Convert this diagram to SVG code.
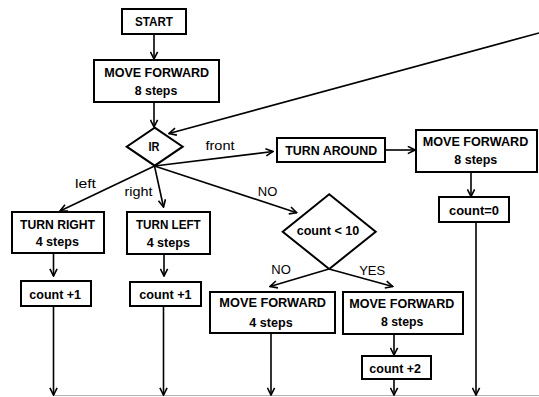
<svg xmlns="http://www.w3.org/2000/svg" width="539" height="397" viewBox="0 0 539 397">
<style>
.box{fill:#fff;stroke:#000;stroke-width:2}
.t{font-family:"Liberation Sans",Arial,sans-serif;font-weight:bold;font-size:12.5px;text-anchor:middle;fill:#000}
.l{font-family:"Liberation Sans",Arial,sans-serif;font-size:13px;text-anchor:middle;fill:#000}
.c{fill:none;stroke:#000;stroke-width:1.6}
</style>
<defs>
<marker id="ah" markerUnits="userSpaceOnUse" viewBox="0 0 10 10" refX="9" refY="5" markerWidth="9" markerHeight="9" orient="auto">
<path d="M1,1 L9,5 L1,9" fill="none" stroke="#000" stroke-width="1.8"/>
</marker>
</defs>
<rect width="539" height="397" fill="#fff"/>
<line x1="53" y1="395.5" x2="539" y2="395.5" stroke="#b0b0b0" stroke-width="1"/>
<g id="connectors">
<line class="c" x1="154" y1="34" x2="154" y2="59" marker-end="url(#ah)"/>
<line class="c" x1="154" y1="102" x2="154" y2="127" marker-end="url(#ah)"/>
<line class="c" x1="539" y1="33" x2="169" y2="133.5" marker-end="url(#ah)"/>
<line class="c" x1="154.5" y1="166" x2="273" y2="151.5" marker-end="url(#ah)"/>
<line class="c" x1="154.5" y1="166" x2="60" y2="211" marker-end="url(#ah)"/>
<line class="c" x1="154.5" y1="166" x2="163.5" y2="207" marker-end="url(#ah)"/>
<line class="c" x1="154.5" y1="166" x2="296.7" y2="212.7" marker-end="url(#ah)"/>
<line class="c" x1="385" y1="150" x2="415" y2="150" marker-end="url(#ah)"/>
<line class="c" x1="471" y1="172" x2="471" y2="196.5" marker-end="url(#ah)"/>
<line class="c" x1="476" y1="222" x2="476" y2="395" marker-end="url(#ah)"/>
<line class="c" x1="53.5" y1="253" x2="53.5" y2="276" marker-end="url(#ah)"/>
<line class="c" x1="53.5" y1="306" x2="53.5" y2="395" marker-end="url(#ah)"/>
<line class="c" x1="164" y1="254" x2="164" y2="276" marker-end="url(#ah)"/>
<line class="c" x1="163.5" y1="306" x2="163.5" y2="395" marker-end="url(#ah)"/>
<line class="c" x1="329" y1="269" x2="270" y2="286.5" marker-end="url(#ah)"/>
<line class="c" x1="329" y1="269" x2="392.7" y2="286.5" marker-end="url(#ah)"/>
<line class="c" x1="271" y1="333" x2="271" y2="395" marker-end="url(#ah)"/>
<line class="c" x1="394" y1="334" x2="394" y2="355" marker-end="url(#ah)"/>
<line class="c" x1="394" y1="379" x2="394" y2="395" marker-end="url(#ah)"/>
<text class="l" x="220" y="150" textLength="29" lengthAdjust="spacingAndGlyphs">front</text>
<text class="l" x="85.5" y="188" textLength="21" lengthAdjust="spacingAndGlyphs">left</text>
<text class="l" x="138.5" y="196" textLength="28" lengthAdjust="spacingAndGlyphs">right</text>
<text class="l" x="267.5" y="195.7">NO</text>
<text class="l" x="281" y="274">NO</text>
<text class="l" x="372.2" y="275">YES</text>
</g>
<g id="start">
<rect class="box" x="122" y="9" width="64" height="25"/>
<text class="t" x="154" y="26" textLength="38" lengthAdjust="spacingAndGlyphs">START</text>
</g>
<g id="move1">
<rect class="box" x="94" y="60" width="125" height="42"/>
<text class="t" x="156.7" y="77" textLength="105" lengthAdjust="spacingAndGlyphs">MOVE FORWARD</text>
<text class="t" x="156" y="94.5" textLength="42.5" lengthAdjust="spacingAndGlyphs">8 steps</text>
</g>
<g id="ir">
<polygon class="box" points="154.7,127.7 182.7,146.7 154.7,165.7 126.7,146.7"/>
<text class="t" x="154" y="151" textLength="11" lengthAdjust="spacingAndGlyphs">IR</text>
</g>
<g id="turnaround">
<rect class="box" x="277" y="138" width="108" height="24"/>
<text class="t" x="331.2" y="155" textLength="92" lengthAdjust="spacingAndGlyphs">TURN AROUND</text>
</g>
<g id="move2">
<rect class="box" x="416" y="130" width="121" height="42"/>
<text class="t" x="475.5" y="146" textLength="105.5" lengthAdjust="spacingAndGlyphs">MOVE FORWARD</text>
<text class="t" x="475.8" y="163.5" textLength="43" lengthAdjust="spacingAndGlyphs">8 steps</text>
</g>
<g id="count0">
<rect class="box" x="439" y="197" width="70" height="25"/>
<text class="t" x="474" y="215" textLength="50" lengthAdjust="spacingAndGlyphs">count=0</text>
</g>
<g id="turnright">
<rect class="box" x="12" y="212" width="92" height="41"/>
<text class="t" x="57.5" y="228.5" textLength="75" lengthAdjust="spacingAndGlyphs">TURN RIGHT</text>
<text class="t" x="57.3" y="246" textLength="43.3" lengthAdjust="spacingAndGlyphs">4 steps</text>
</g>
<g id="turnleft">
<rect class="box" x="127" y="212" width="83" height="42"/>
<text class="t" x="168.3" y="229.3" textLength="64.7" lengthAdjust="spacingAndGlyphs">TURN LEFT</text>
<text class="t" x="168.3" y="246.7" textLength="43.3" lengthAdjust="spacingAndGlyphs">4 steps</text>
</g>
<g id="count1a">
<rect class="box" x="21" y="281" width="70" height="25"/>
<text class="t" x="55.2" y="298.5" textLength="51.7" lengthAdjust="spacingAndGlyphs">count +1</text>
</g>
<g id="count1b">
<rect class="box" x="130" y="282" width="71" height="24"/>
<text class="t" x="165.5" y="298.7" textLength="52.3" lengthAdjust="spacingAndGlyphs">count +1</text>
</g>
<g id="countlt10">
<polygon class="box" points="329.2,194.3 375.7,231.7 329.2,269 282.7,231.7"/>
<text class="t" x="328" y="235" textLength="62.7" lengthAdjust="spacingAndGlyphs">count &lt; 10</text>
</g>
<g id="move4">
<rect class="box" x="210" y="292" width="125" height="41"/>
<text class="t" x="272.7" y="306.7" textLength="106.7" lengthAdjust="spacingAndGlyphs">MOVE FORWARD</text>
<text class="t" x="271" y="326.7" textLength="43.3" lengthAdjust="spacingAndGlyphs">4 steps</text>
</g>
<g id="move8">
<rect class="box" x="343" y="292" width="120" height="42"/>
<text class="t" x="401.8" y="308.3" textLength="105" lengthAdjust="spacingAndGlyphs">MOVE FORWARD</text>
<text class="t" x="402.2" y="326" textLength="42.3" lengthAdjust="spacingAndGlyphs">8 steps</text>
</g>
<g id="count2">
<rect class="box" x="362" y="356" width="69" height="23"/>
<text class="t" x="395.2" y="372.7" textLength="51.7" lengthAdjust="spacingAndGlyphs">count +2</text>
</g>
</svg>
